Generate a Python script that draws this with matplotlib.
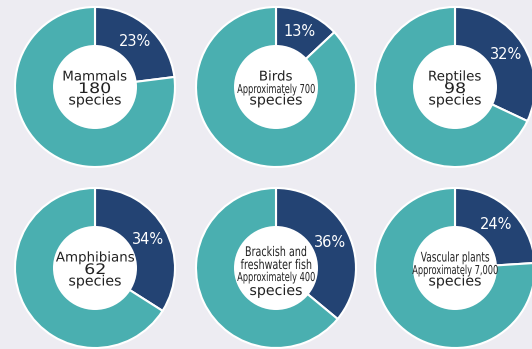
import numpy as np
import matplotlib.pyplot as plt
from matplotlib.patches import Circle, PathPatch
from matplotlib.textpath import TextPath
from matplotlib.font_manager import FontProperties
from matplotlib.transforms import Affine2D

# Доли (в процентах) для каждого кольца
names = ["Mammals", "Birds", "Reptiles", "Amphibians",
         "Brackish and\nfreshwater fish", "Vascular plants"]
counts = ["180", "Approximately 700", "98", "62",
          "Approximately 400", "Approximately 7,000"]
shares = [23, 13, 32, 34, 36, 24]

navy = "#234373"
teal = "#4AAFB0"
bg = "#EDECF2"
ink = "#222222"

W, H = 532, 349
# центры колец (пиксели, от верхнего левого угла)
centers = [(95, 87), (276, 87), (455, 87), (95, 268), (276, 268), (455, 268)]
R = 80
r_in = 42

fp = FontProperties(family="DejaVu Sans")

fig = plt.figure(figsize=(W / 100, H / 100), dpi=100, facecolor=bg)
ax = fig.add_axes([0, 0, 1, 1])
ax.set_facecolor(bg)


# Текст как контур: можно сжать по горизонтали
def line(cx, y, s, size, sx):
    p = TextPath((0, 0), s, size=size, prop=fp)
    e = p.get_extents()
    tr = Affine2D().translate(-(e.x0 + e.width / 2), 0).scale(sx, 1).translate(cx, y)
    ax.add_patch(PathPatch(p, transform=tr + ax.transData, facecolor=ink,
                           edgecolor="none", lw=0, zorder=4))


for i in range(6):
    cx, cy = centers[i][0], H - centers[i][1]
    ax.pie([shares[i], 100 - shares[i]], center=(cx, cy), radius=R,
           startangle=90, counterclock=False, colors=[navy, teal],
           wedgeprops=dict(edgecolor="white", linewidth=1.5),
           autopct=lambda p: "%d%%" % round(p) if p < 50 else "",
           pctdistance=0.75,
           textprops=dict(color="white", fontsize=10.5, family="DejaVu Sans"))
    ax.add_patch(Circle((cx, cy), r_in, facecolor="white", edgecolor="none", zorder=3))

    # подписи в центре: (строка, размер, сжатие)
    rows = []
    if "\n" in names[i]:
        for s in names[i].split("\n"):
            rows.append((s, 13.3, 0.72))
    elif names[i].startswith("Vascular"):
        rows.append((names[i], 13.3, 0.68))
    else:
        rows.append((names[i], 13.4, 1.0))
    if counts[i].startswith("Approx"):
        rows.append((counts[i], 12.3, 0.67))
    else:
        rows.append((counts[i], 14.5, 1.2))
    rows.append(("species", 14.2, 1.0))

    if len(rows) == 4:
        offs = [-12, 1, 13, 27]
    else:
        offs = [-6.5, 6, 17.5]
    for (s, size, sx), off in zip(rows, offs):
        line(cx, cy - off, s, size, sx)

ax.set_xlim(0, W)
ax.set_ylim(0, H)
ax.set_aspect("equal")
ax.axis("off")

fig.savefig("out.png", dpi=100, facecolor=bg)
